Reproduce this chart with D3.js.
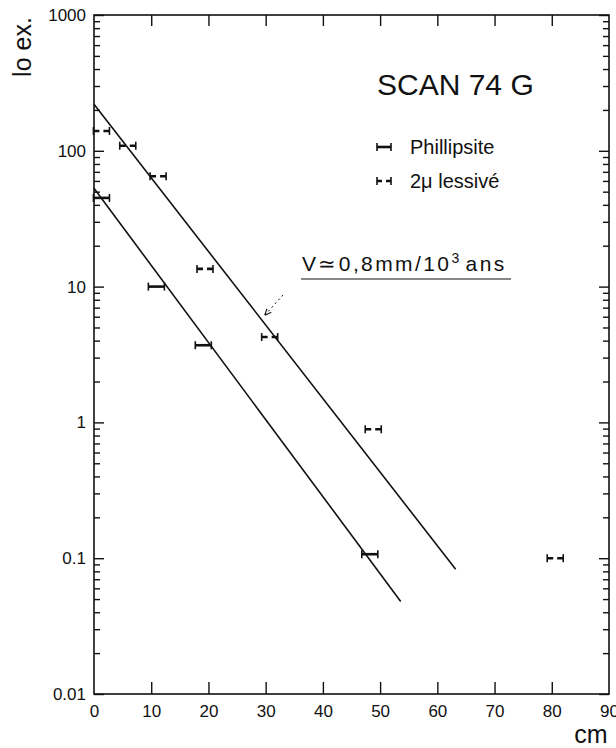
<!DOCTYPE html>
<html lang="fr">
<head>
<meta charset="UTF-8">
<title>SCAN 74 G</title>
<script src="https://d3js.org/d3.v7.min.js"></script>
<style>
  body { margin: 0; background: #fff; }
  svg text { font-family: "Liberation Sans", Arial, sans-serif; fill: #111; }
</style>
</head>
<body>
<div id="chart"></div>
<script>
// depth (cm) and activity (Io ex.)
const phillX = [1.3, 10.9, 19.1, 48.2];
const phillY = [45, 10, 3.7, 0.107];
const lessX = [1.3, 5.9, 11.2, 19.4, 30.7, 48.8, 80.6];
const lessY = [140, 109, 65, 13.5, 4.25, 0.89, 0.1];
const errHalf = 1.4; // cm, half width of the bars

// the two fitted lines
const upperX = [0, 63.2];
const upperY = [220, 0.083];
const lowerX = [0, 53.6];
const lowerY = [53, 0.048];

const xTicks = [0, 10, 20, 30, 40, 50, 60, 70, 80, 90];
const yTicks = [1000, 100, 10, 1, 0.1, 0.01];
const yTickLabels = ["1000", "100", "10", "1", "0.1", "0.01"];

const width = 616, height = 748;
const svg = d3.select("#chart").append("svg")
  .attr("width", width)
  .attr("height", height);

const x = d3.scaleLinear().domain([0, 90]).range([94, 609]);
const y = d3.scaleLog().domain([0.01, 1000]).range([694, 15]);

// minor ticks for the log axis
const minor = [];
yTicks.slice(0, -1).forEach(d => {
  for (let k = 2; k <= 9; k++) minor.push(d / 10 * k);
});

// frame
svg.append("rect")
  .attr("x", x(0)).attr("y", y(1000))
  .attr("width", x(90) - x(0)).attr("height", y(0.01) - y(1000))
  .attr("fill", "none").attr("stroke", "#111").attr("stroke-width", 1.6);

function cleanAxis(g) {
  g.select(".domain").remove();
  g.selectAll("line").attr("stroke", "#111").attr("stroke-width", 1.4);
}

// bottom axis
svg.append("g")
  .attr("transform", `translate(0,${y(0.01)})`)
  .call(d3.axisBottom(x).tickValues(xTicks).tickSizeInner(-12).tickSizeOuter(0).tickPadding(23))
  .call(cleanAxis)
  .call(g => g.selectAll("text").attr("font-size", 17).attr("dy", "0"))
  .call(g => g.selectAll(".tick").filter(d => d === 0 || d === 90).select("line").remove());

// top axis
svg.append("g")
  .attr("transform", `translate(0,${y(1000)})`)
  .call(d3.axisTop(x).tickValues(xTicks.slice(1, -1)).tickSizeInner(-11).tickSizeOuter(0).tickFormat(""))
  .call(cleanAxis);

// left axis: majors with labels, minors without
svg.append("g")
  .attr("transform", `translate(${x(0)},0)`)
  .call(d3.axisLeft(y).tickValues(yTicks).tickSizeInner(-10).tickSizeOuter(0).tickPadding(8)
    .tickFormat((d, i) => yTickLabels[i]))
  .call(cleanAxis)
  .call(g => g.selectAll("text").attr("font-size", 17));

svg.append("g")
  .attr("transform", `translate(${x(0)},0)`)
  .call(d3.axisLeft(y).tickValues(minor).tickSizeInner(-6).tickSizeOuter(0).tickFormat(""))
  .call(cleanAxis);

// right axis, ticks inward
svg.append("g")
  .attr("transform", `translate(${x(90)},0)`)
  .call(d3.axisRight(y).tickValues(yTicks).tickSizeInner(-10).tickSizeOuter(0).tickFormat(""))
  .call(cleanAxis);

svg.append("g")
  .attr("transform", `translate(${x(90)},0)`)
  .call(d3.axisRight(y).tickValues(minor).tickSizeInner(-6).tickSizeOuter(0).tickFormat(""))
  .call(cleanAxis);

// axis titles
svg.append("text")
  .attr("transform", "translate(31,47) rotate(-90)")
  .attr("text-anchor", "middle")
  .attr("font-size", 25)
  .text("lo ex.");

svg.append("text")
  .attr("x", 591).attr("y", 743)
  .attr("text-anchor", "middle")
  .attr("font-size", 25)
  .text("cm");

// fitted lines
const line = d3.line().x(d => x(d[0])).y(d => y(d[1]));
[[upperX, upperY], [lowerX, lowerY]].forEach(([xs, ys]) => {
  svg.append("path")
    .datum(xs.map((v, i) => [v, ys[i]]))
    .attr("d", line)
    .attr("fill", "none")
    .attr("stroke", "#111")
    .attr("stroke-width", 1.6);
});

// error bars
function errorBar(sel, dashed) {
  sel.append("line")
    .attr("x1", d => x(d[0] - errHalf)).attr("x2", d => x(d[0] + errHalf))
    .attr("y1", d => y(d[1])).attr("y2", d => y(d[1]))
    .attr("stroke", "#111").attr("stroke-width", 2.6)
    .attr("stroke-dasharray", dashed ? "6,4" : null);
  [-1, 1].forEach(s => {
    sel.append("line")
      .attr("x1", d => x(d[0] + s * errHalf)).attr("x2", d => x(d[0] + s * errHalf))
      .attr("y1", d => y(d[1]) - 4).attr("y2", d => y(d[1]) + 4)
      .attr("stroke", "#111").attr("stroke-width", 1.6);
  });
}

svg.append("g").selectAll("g")
  .data(phillX.map((v, i) => [v, phillY[i]]))
  .join("g")
  .call(errorBar, false);

svg.append("g").selectAll("g")
  .data(lessX.map((v, i) => [v, lessY[i]]))
  .join("g")
  .call(errorBar, true);

// title and legend
svg.append("text")
  .attr("x", 377).attr("y", 95)
  .attr("font-size", 30)
  .text("SCAN 74 G");

const legend = [["Phillipsite", false], ["2\u03bc lessivé", true]];
legend.forEach(([label, dashed], i) => {
  const ly = 147 + i * 34;
  const g = svg.append("g");
  g.append("line").attr("x1", 377).attr("x2", 391).attr("y1", ly).attr("y2", ly)
    .attr("stroke", "#111").attr("stroke-width", 2.6)
    .attr("stroke-dasharray", dashed ? "5,4" : null);
  [377, 391].forEach(cx => g.append("line")
    .attr("x1", cx).attr("x2", cx).attr("y1", ly - 4).attr("y2", ly + 4)
    .attr("stroke", "#111").attr("stroke-width", 1.6));
  g.append("text").attr("x", 410).attr("y", ly + 7)
    .attr("font-size", 20)
    .text(label);
});

// velocity annotation
const vt = svg.append("text")
  .attr("x", 302).attr("y", 271)
  .attr("font-size", 21)
  .attr("letter-spacing", 2.4);
vt.append("tspan").text("V\u22430,8mm/10");
vt.append("tspan").attr("dy", -8).attr("font-size", 14).text("3");
vt.append("tspan").attr("dy", 8).attr("dx", 4).text("ans");

svg.append("line")
  .attr("x1", 301).attr("x2", 511).attr("y1", 279).attr("y2", 279)
  .attr("stroke", "#111").attr("stroke-width", 1.2);

// little arrow pointing at the upper line
svg.append("defs").append("marker")
  .attr("id", "head").attr("viewBox", "0 0 10 10")
  .attr("refX", 9).attr("refY", 5)
  .attr("markerWidth", 7).attr("markerHeight", 7)
  .attr("orient", "auto")
  .append("path").attr("d", "M0,1 L10,5 L0,9").attr("fill", "none").attr("stroke", "#111").attr("stroke-width", 1.5);

svg.append("line")
  .attr("x1", 283).attr("y1", 295).attr("x2", 265).attr("y2", 315)
  .attr("stroke", "#111").attr("stroke-width", 1)
  .attr("stroke-dasharray", "2,3")
  .attr("marker-end", "url(#head)");
</script>
</body>
</html>
